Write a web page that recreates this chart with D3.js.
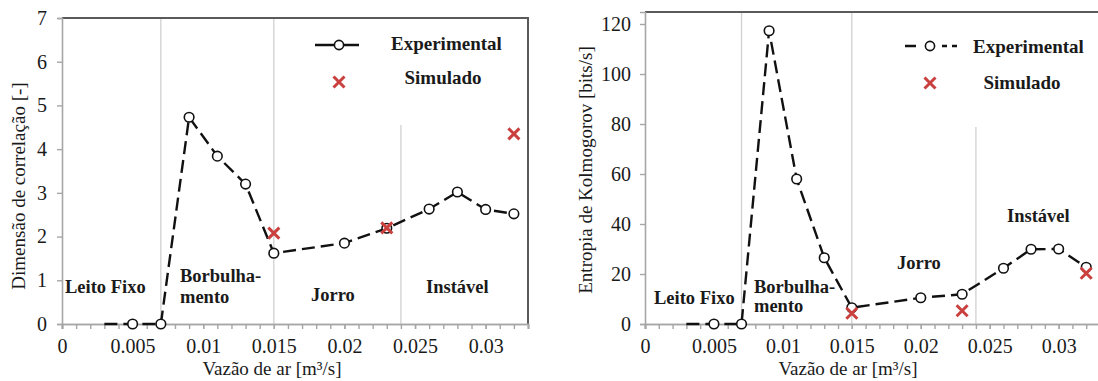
<!DOCTYPE html>
<html>
<head>
<meta charset="utf-8">
<script src="https://cdn.jsdelivr.net/npm/d3@7"></script>
<style>
  html, body { margin: 0; padding: 0; background: #fff; }
  svg { display: block; }
  text { font-family: "Liberation Serif", "Times New Roman", serif; fill: #1a1a1a; }
</style>
</head>
<body>
<svg id="chart" width="1098" height="381"></svg>
<script>
// ---------- data ----------
const flow = [0.003, 0.005, 0.007, 0.009, 0.011, 0.013, 0.015, 0.020, 0.023, 0.026, 0.028, 0.030, 0.032];
const corrDimExp = [0, 0, 0, 4.73, 3.84, 3.2, 1.62, 1.85, 2.19, 2.63, 3.02, 2.62, 2.52];
const entropyExp = [0, 0, 0, 117.3, 58, 26.5, 6.5, 10.5, 11.9, 22.3, 29.9, 30, 22.7];
const simFlow = [0.015, 0.023, 0.032];
const corrDimSim = [2.08, 2.2, 4.35];
const entropySim = [4.3, 5.3, 20.3];
const regionBounds = [0.007, 0.015, 0.024];
const regionNames = ["Leito Fixo", "Borbulha-", "mento", "Jorro", "Instável"];
const xTickValues = [0, 0.005, 0.01, 0.015, 0.02, 0.025, 0.03];
const xTickLabels = ["0", "0.005", "0.01", "0.015", "0.02", "0.025", "0.03"];
const corrTicks = [0, 1, 2, 3, 4, 5, 6, 7];
const entropyTicks = [0, 20, 40, 60, 80, 100, 120];
const seriesNames = ["Experimental", "Simulado"];
const xTitle = "Vazão de ar [m³/s]";
const yTitles = ["Dimensão de correlação [-]", "Entropia de Kolmogorov [bits/s]"];

// ---------- drawing ----------
const svg = d3.select("#chart");
const RED = "#c9403f";
const AXIS = "#a6a6a6";

function panel(cfg) {
  const g = svg.append("g");
  const x = d3.scaleLinear().domain([0, 0.033]).range([cfg.left, cfg.right]);
  const y = d3.scaleLinear().domain([0, cfg.yMax]).range([cfg.bottom, cfg.top]);

  // region separators
  regionBounds.forEach((b, i) => {
    g.append("line")
      .attr("x1", x(b)).attr("x2", x(b))
      .attr("y1", i === 2 ? cfg.partialTop : cfg.top).attr("y2", cfg.bottom)
      .attr("stroke", "#d0d0d0").attr("stroke-width", 1.3);
  });

  // frame top/right
  g.append("path")
    .attr("d", `M${cfg.left},${cfg.top}H${cfg.right}V${cfg.bottom}`)
    .attr("fill", "none").attr("stroke", "#5a5a5a").attr("stroke-width", 2);

  // x axis minor ticks
  const minor = d3.range(0, 0.0335, 0.001);
  const xMinor = g.append("g").attr("transform", `translate(0,${cfg.bottom})`)
    .call(d3.axisBottom(x).tickValues(minor).tickSize(5).tickFormat(""));
  const xMajor = g.append("g").attr("transform", `translate(0,${cfg.bottom})`)
    .call(d3.axisBottom(x).tickValues(xTickValues).tickSize(5).tickPadding(10)
      .tickFormat((d, i) => xTickLabels[i]));
  const yAx = g.append("g").attr("transform", `translate(${cfg.left},0)`)
    .call(d3.axisLeft(y).tickValues(cfg.yTicks).tickSize(5).tickPadding(cfg.yPad).tickFormat(d3.format("d")));
  [xMinor, xMajor, yAx].forEach(a => {
    a.select(".domain").attr("stroke", AXIS).attr("stroke-width", 1.6);
    a.selectAll(".tick line").attr("stroke", AXIS).attr("stroke-width", 1.4);
    a.selectAll(".tick text").style("font-family", "'Liberation Serif', serif")
      .style("font-size", "20px").attr("fill", "#222");
  });

  // experimental line
  const pts = flow.map((f, i) => [f, cfg.exp[i]]);
  g.append("path").datum(pts)
    .attr("d", d3.line().x(d => x(d[0])).y(d => y(d[1])))
    .attr("fill", "none").attr("stroke", "#111").attr("stroke-width", 2.4)
    .attr("stroke-dasharray", "13,6");
  g.selectAll("circle.exp").data(pts.slice(1)).join("circle")
    .attr("cx", d => x(d[0])).attr("cy", d => y(d[1])).attr("r", 4.8)
    .attr("fill", "#fff").attr("stroke", "#111").attr("stroke-width", 1.6);

  // simulated
  const sim = simFlow.map((f, i) => [f, cfg.sim[i]]);
  const cross = (sel, s) => sel.append("path")
    .attr("d", `M${-s},${-s}L${s},${s}M${-s},${s}L${s},${-s}`)
    .attr("stroke", RED).attr("stroke-width", 3).attr("fill", "none");
  sim.forEach(d => {
    const c = g.append("g").attr("transform", `translate(${x(d[0])},${y(d[1])})`);
    cross(c, 5.5);
  });

  // legend
  const L = cfg.legend;
  g.append("line").attr("x1", L.lx1).attr("x2", L.lx2).attr("y1", L.ly).attr("y2", L.ly)
    .attr("stroke", "#111").attr("stroke-width", 2.4).attr("stroke-dasharray", L.dash);
  g.append("circle").attr("cx", L.cx).attr("cy", L.ly).attr("r", 4.6)
    .attr("fill", "#fff").attr("stroke", "#111").attr("stroke-width", 1.6);
  cross(g.append("g").attr("transform", `translate(${L.cx},${L.sy})`), 5.5);
  g.append("text").attr("x", L.tx1).attr("y", L.ty1).text(seriesNames[0])
    .style("font-size", "19px").style("font-weight", "bold").attr("fill", "#111");
  g.append("text").attr("x", L.tx2).attr("y", L.ty2).text(seriesNames[1])
    .attr("text-anchor", "middle")
    .style("font-size", "19px").style("font-weight", "bold").attr("fill", "#111");

  // region labels
  cfg.labels.forEach((p, i) => {
    g.append("text").attr("x", p[0]).attr("y", p[1]).text(regionNames[i])
      .style("font-size", "18.5px").style("font-weight", "bold").attr("fill", "#111");
  });

  // titles
  g.append("text").attr("x", cfg.xtx).attr("y", cfg.xty).attr("text-anchor", "middle")
    .text(xTitle).style("font-size", "19px").attr("fill", "#222");
  g.append("text").attr("transform", `translate(${cfg.ytx},${cfg.yty}) rotate(-90)`)
    .attr("text-anchor", "middle").text(cfg.yTitle)
    .style("font-size", "19px").attr("fill", "#222");
}

panel({
  left: 62, right: 528, top: 18, bottom: 324, partialTop: 125,
  yMax: 7, yTicks: corrTicks, yPad: 10,
  exp: corrDimExp, sim: corrDimSim,
  legend: { lx1: 315, lx2: 359, ly: 45, cx: 339, sy: 82, dash: null,
            tx1: 391, ty1: 50, tx2: 443, ty2: 84 },
  labels: [[65, 293], [180, 282], [180, 303], [311, 301], [426, 293]],
  xtx: 272, xty: 375, ytx: 25, yty: 186, yTitle: yTitles[0]
});

panel({
  left: 645, right: 1100, top: 12, bottom: 324, partialTop: 127,
  yMax: 124.8, yTicks: entropyTicks, yPad: 9,
  exp: entropyExp, sim: entropySim,
  legend: { lx1: 905, lx2: 957, ly: 46, cx: 930, sy: 83, dash: "11,26,5,5,5,100",
            tx1: 973, ty1: 53, tx2: 1022, ty2: 89 },
  labels: [[654, 304], [754, 293], [754, 312], [897, 269], [1007, 222]],
  xtx: 848, xty: 374.5, ytx: 592, yty: 170, yTitle: yTitles[1]
});
</script>
</body>
</html>
